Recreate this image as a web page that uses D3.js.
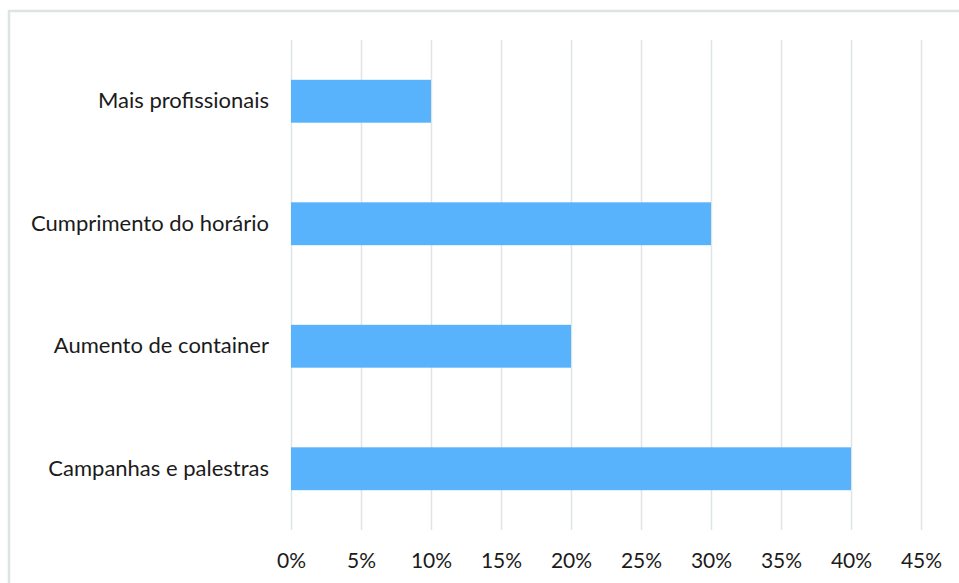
<!DOCTYPE html>
<html>
<head>
<meta charset="utf-8">
<script src="https://cdn.jsdelivr.net/npm/d3@7"></script>
<style>
  body{margin:0;background:#fff;}
  svg text{font-family:Lato,"Open Sans",sans-serif;fill:#1b1b1b;}
</style>
</head>
<body>
<div class="canvas"></div>
<script>
// data
const categories=['Mais profissionais','Cumprimento do horário','Aumento de container','Campanhas e palestras'];
const values=[0.10,0.30,0.20,0.40];
const tickValues=[0,0.05,0.10,0.15,0.20,0.25,0.30,0.35,0.40,0.45];

const dims={width:959,height:583};
const plot={left:291,right:921,top:40,bottom:530};

const svg=d3.select('.canvas')
.append('svg')
.attr('width',dims.width)
.attr('height',dims.height);

// outer frame
svg.append('rect')
.attr('x',9).attr('y',11)
.attr('width',dims.width+10).attr('height',dims.height+10)
.attr('fill','none')
.attr('stroke','#dce4e4')
.attr('stroke-width',2.5);

const x=d3.scaleLinear()
.domain([0,0.45])
.range([plot.left,plot.right]);

const y=d3.scaleBand()
.domain(categories)
.range([plot.top,plot.bottom])
.paddingInner(0.65)
.paddingOuter(0.325);

// gridlines
svg.append('g')
.selectAll('line')
.data(tickValues)
.enter().append('line')
.attr('x1',d=>Math.round(x(d))+0.5)
.attr('x2',d=>Math.round(x(d))+0.5)
.attr('y1',plot.top)
.attr('y2',plot.bottom)
.attr('stroke','#dfe5e5')
.attr('stroke-width',1.5);

// bars
svg.append('g')
.selectAll('rect')
.data(values)
.enter().append('rect')
.attr('x',x(0))
.attr('y',(d,i)=>y(categories[i]))
.attr('width',d=>x(d)-x(0))
.attr('height',y.bandwidth())
.attr('fill','#58b2fc');

// x axis labels
const xAxis=d3.axisBottom(x)
.tickValues(tickValues)
.tickFormat(d3.format('.0%'))
.tickSize(0)
.tickPadding(0);

const xg=svg.append('g')
.attr('transform',`translate(0,${plot.bottom+23})`)
.call(xAxis);
xg.select('.domain').remove();
xg.selectAll('text')
.attr('font-size',21)
.attr('font-family','Lato')
.attr('fill','#1b1b1b');

// category labels
const yAxis=d3.axisLeft(y).tickSize(0).tickPadding(0);
const yg=svg.append('g')
.attr('transform',`translate(${plot.left-22},0)`)
.call(yAxis);
yg.select('.domain').remove();
yg.selectAll('text')
.attr('font-size',22)
.attr('font-family','Lato')
.attr('fill','#1b1b1b');
</script>
</body>
</html>
